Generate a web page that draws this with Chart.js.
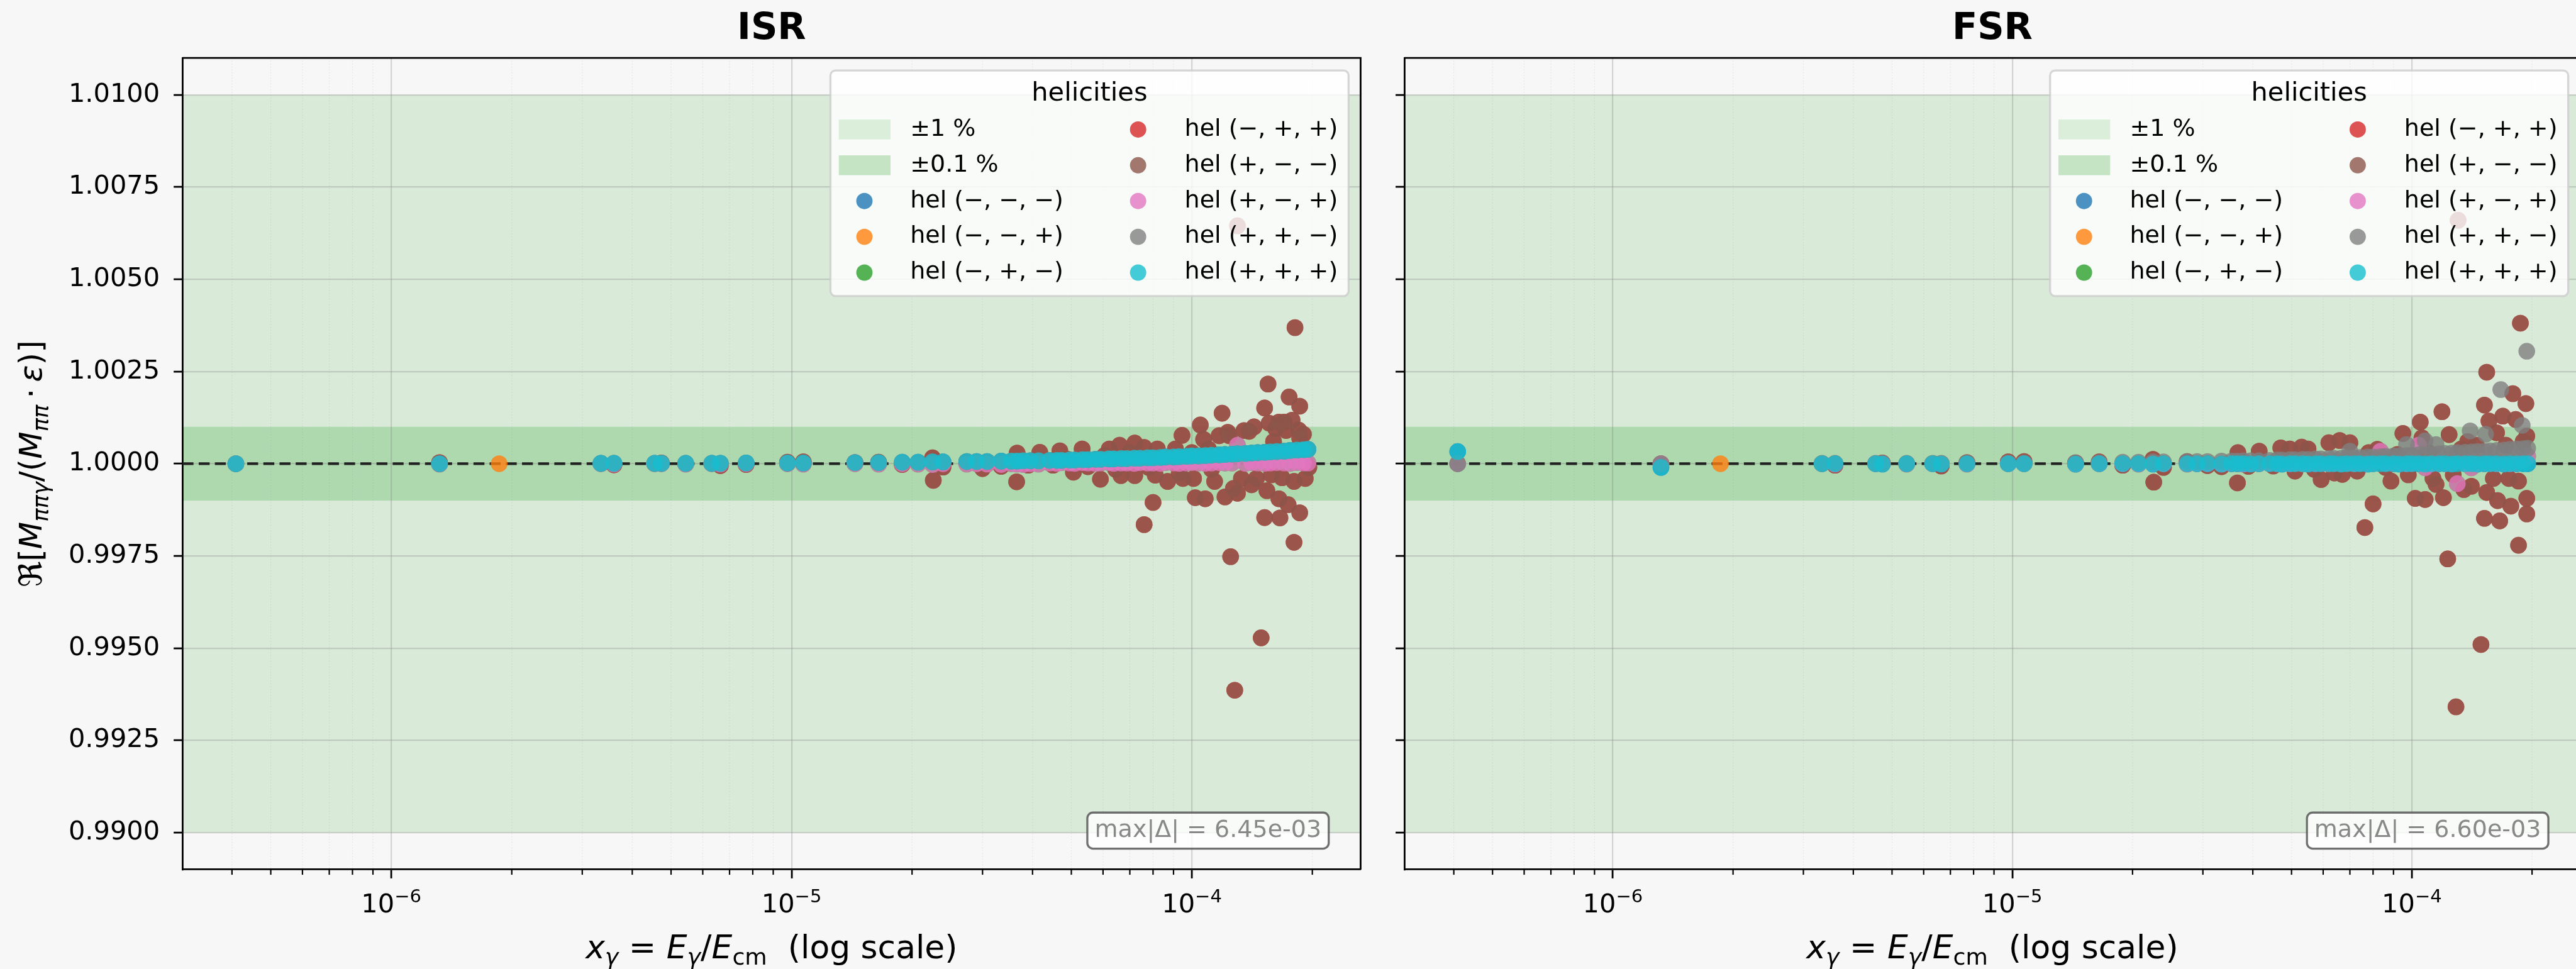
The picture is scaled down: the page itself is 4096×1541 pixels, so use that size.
<!DOCTYPE html>
<html>
<head>
<meta charset="utf-8">
<script src="https://cdn.jsdelivr.net/npm/chart.js@4.4.1/dist/chart.umd.min.js"></script>
<style>
  html, body { margin: 0; padding: 0; background: #f7f7f7; overflow: hidden; }
  body { width: 4096px; height: 1541px; position: relative; }
  canvas { position: absolute; top: 0; }
  #isr { left: 0; }
  #fsr { left: 2216px; }
</style>
</head>
<body>
<canvas id="isr" width="2216" height="1541"></canvas>
<canvas id="fsr" width="1900" height="1541"></canvas>
<script>
const S = 4096 / 4932;
const FONT = '"DejaVu Sans", sans-serif';

const helicityLabels = ['hel (−, −, −)', 'hel (−, −, +)', 'hel (−, +, −)', 'hel (−, +, +)',
                        'hel (+, −, −)', 'hel (+, −, +)', 'hel (+, +, −)', 'hel (+, +, +)'];
const helicityColors = ['31,119,180', '255,127,14', '44,160,44', '214,39,40',
                        '140,86,75', '227,119,194', '127,127,127', '23,190,207'];

// axes
const xRange = [3.01e-7, 2.64e-4];
const yRange = [0.989, 1.011];
const xMajorTicks = [1e-6, 1e-5, 1e-4];
const xMajorExponents = ['−6', '−5', '−4'];
const xMinorTicks = [4e-7, 5e-7, 6e-7, 7e-7, 8e-7, 9e-7,
                     2e-6, 3e-6, 4e-6, 5e-6, 6e-6, 7e-6, 8e-6, 9e-6,
                     2e-5, 3e-5, 4e-5, 5e-5, 6e-5, 7e-5, 8e-5, 9e-5, 2e-4];
const yTicks = [0.99, 0.9925, 0.995, 0.9975, 1.0, 1.0025, 1.005, 1.0075, 1.01];
const bandWide = [0.99, 1.01];
const bandNarrow = [0.999, 1.001];
const bandColors = ['rgba(44,160,44,0.15)', 'rgba(44,160,44,0.25)'];
const bandLabels = ['±1 %', '±0.1 %'];

// photon energy fraction of each event (shared by both panels)
const xEvents = [
  4.09e-7, 1.32e-6, 3.34e-6, 3.60e-6, 4.55e-6, 4.73e-6, 5.44e-6, 6.32e-6, 6.64e-6, 7.70e-6,
  9.77e-6, 1.07e-5, 1.44e-5, 1.65e-5, 1.89e-5, 2.07e-5, 2.25e-5, 2.39e-5, 2.74e-5, 2.90e-5,
  3.08e-5, 3.34e-5, 3.54e-5, 3.66e-5, 3.79e-5, 3.95e-5, 4.14e-5, 4.41e-5, 4.60e-5, 4.73e-5,
  4.95e-5, 5.10e-5, 5.33e-5, 5.50e-5, 5.74e-5, 5.92e-5, 6.20e-5, 6.38e-5, 6.66e-5, 6.88e-5,
  7.18e-5, 7.42e-5, 7.75e-5, 8.00e-5, 8.35e-5, 8.60e-5, 9.00e-5, 9.30e-5, 9.70e-5, 1.00e-4,
  1.04e-4, 1.08e-4, 1.12e-4, 1.17e-4, 1.21e-4, 1.26e-4, 1.30e-4, 1.36e-4, 1.41e-4, 1.46e-4,
  1.52e-4, 1.57e-4, 1.63e-4, 1.70e-4, 1.76e-4, 1.83e-4, 1.90e-4, 1.95e-4
];

// ISR ratios
const isrPlusPlusPlus = [
  1.00000, 1.00000, 1.00001, 1.00001, 1.00001, 1.00001, 1.00001, 1.00001, 1.00001, 1.00002,
  1.00002, 1.00002, 1.00003, 1.00003, 1.00004, 1.00004, 1.00005, 1.00005, 1.00006, 1.00006,
  1.00006, 1.00007, 1.00007, 1.00007, 1.00008, 1.00008, 1.00008, 1.00009, 1.00009, 1.00009,
  1.00010, 1.00010, 1.00011, 1.00011, 1.00012, 1.00012, 1.00013, 1.00013, 1.00014, 1.00014,
  1.00015, 1.00015, 1.00016, 1.00016, 1.00017, 1.00018, 1.00018, 1.00019, 1.00020, 1.00021,
  1.00021, 1.00022, 1.00023, 1.00024, 1.00025, 1.00026, 1.00027, 1.00028, 1.00029, 1.00030,
  1.00031, 1.00032, 1.00033, 1.00034, 1.00036, 1.00037, 1.00038, 1.00039
];
const isrPlusMinusPlus = [
  1.00000, 0.99999, 1.00000, 0.99999, 1.00000, 1.00000, 0.99999, 1.00000, 0.99999, 1.00000,
  1.00000, 0.99999, 1.00000, 0.99999, 1.00000, 0.99999, 0.99998, 1.00000, 0.99999, 1.00000,
  0.99999, 0.99998, 1.00000, 0.99999, 0.99998, 1.00000, 0.99999, 1.00002, 1.00001, 1.00003,
  1.00002, 1.00001, 1.00003, 1.00002, 1.00001, 1.00002, 1.00003, 1.00001, 1.00002, 1.00002,
  1.00001, 1.00003, 1.00002, 1.00002, 1.00001, 1.00003, 1.00002, 1.00001, 1.00002, 1.00003,
  1.00002, 1.00001, 1.00002, 1.00003, 1.00002, 1.00002, 1.00050, 1.00001, 1.00003, 1.00002,
  1.00001, 1.00002, 1.00003, 1.00002, 1.00001, 1.00003, 1.00002, 1.00002
];
const isrPlusMinusMinusX = [
  1.32e-6, 3.60e-6, 4.73e-6, 6.64e-6, 7.70e-6, 9.77e-6, 1.07e-5, 1.44e-5, 1.65e-5, 1.89e-5,
  2.25e-5, 2.26e-5, 2.39e-5, 2.74e-5, 3.00e-5, 3.08e-5, 3.34e-5, 3.66e-5, 3.65e-5, 3.90e-5,
  4.17e-5, 4.50e-5, 4.68e-5, 4.90e-5, 5.06e-5, 5.32e-5, 5.50e-5, 5.91e-5, 6.05e-5, 6.22e-5,
  6.45e-5, 6.60e-5, 6.65e-5, 7.00e-5, 7.20e-5, 7.20e-5, 7.60e-5, 7.60e-5, 7.80e-5, 8.00e-5,
  8.20e-5, 8.10e-5, 8.50e-5, 8.70e-5, 9.10e-5, 9.30e-5, 9.45e-5, 9.50e-5, 1.00e-4, 1.01e-4,
  1.02e-4, 1.05e-4, 1.07e-4, 1.08e-4, 1.10e-4, 1.12e-4, 1.14e-4, 1.17e-4, 1.19e-4, 1.21e-4,
  1.23e-4, 1.24e-4, 1.25e-4, 1.27e-4, 1.28e-4, 1.30e-4, 1.30e-4, 1.33e-4, 1.35e-4, 1.39e-4,
  1.41e-4, 1.43e-4, 1.45e-4, 1.47e-4, 1.49e-4, 1.52e-4, 1.52e-4, 1.54e-4, 1.55e-4, 1.56e-4,
  1.58e-4, 1.60e-4, 1.62e-4, 1.65e-4, 1.65e-4, 1.66e-4, 1.68e-4, 1.70e-4, 1.72e-4, 1.74e-4,
  1.75e-4, 1.78e-4, 1.80e-4, 1.80e-4, 1.81e-4, 1.85e-4, 1.86e-4, 1.86e-4, 1.86e-4, 1.90e-4,
  1.92e-4, 1.96e-4
];
const isrPlusMinusMinusY = [
  1.00003, 0.99997, 1.00002, 0.99995, 0.99998, 1.00004, 1.00005, 1.00003, 1.00004, 0.99998,
  1.00016, 0.99955, 0.99991, 1.00005, 0.99987, 1.00004, 0.99993, 1.00029, 0.99951, 0.99996,
  1.00031, 0.99996, 1.00035, 1.00012, 0.99977, 1.00040, 0.99992, 0.99958, 1.00022, 1.00040,
  0.99985, 1.00050, 0.99968, 1.00030, 1.00056, 0.99968, 1.00044, 0.99835, 0.99990, 0.99895,
  1.00040, 0.99969, 1.00010, 0.99952, 1.00040, 0.99975, 1.00077, 0.99960, 1.00030, 0.99960,
  0.99908, 1.00105, 1.00066, 0.99905, 1.00040, 0.99985, 0.99952, 1.00076, 1.00137, 0.99910,
  1.00085, 1.00076, 0.99748, 0.99933, 0.99386, 1.00645, 0.99920, 0.99960, 1.00090, 1.00088,
  0.99943, 1.00100, 0.99960, 1.00020, 0.99528, 1.00151, 0.99854, 0.99927, 1.00216, 1.00110,
  0.99970, 1.00060, 1.00095, 1.00113, 0.99905, 0.99853, 0.99962, 1.00113, 1.00090, 0.99889,
  1.00181, 1.00118, 0.99787, 0.99952, 1.00369, 1.00091, 1.00156, 1.00069, 0.99867, 1.00080,
  0.99960, 0.99990
];

// FSR ratios
const fsrPlusPlusPlus = [
  1.00033, 0.99990, 1.00000, 1.00000, 1.00000, 0.99999, 1.00000, 1.00000, 0.99999, 1.00000,
  1.00000, 1.00000, 0.99999, 1.00000, 1.00000, 1.00000, 0.99999, 1.00000, 1.00000, 1.00000,
  1.00000, 0.99999, 1.00000, 1.00000, 1.00000, 0.99999, 1.00000, 1.00000, 1.00000, 0.99999,
  1.00000, 1.00000, 1.00000, 0.99999, 1.00000, 1.00000, 1.00000, 1.00000, 0.99999, 1.00000,
  1.00000, 1.00000, 0.99999, 1.00000, 1.00000, 1.00000, 1.00000, 0.99999, 1.00000, 1.00000,
  1.00000, 0.99999, 1.00000, 1.00000, 1.00000, 0.99999, 1.00000, 1.00000, 1.00000, 0.99999,
  1.00000, 1.00000, 1.00000, 0.99999, 1.00000, 1.00000, 1.00000, 1.00000
];
const fsrPlusPlusMinus = [
  1.00000, 1.00000, 1.00001, 1.00001, 1.00001, 1.00001, 1.00001, 1.00001, 1.00001, 1.00002,
  1.00002, 1.00002, 1.00003, 1.00003, 1.00004, 1.00004, 1.00005, 1.00005, 1.00006, 1.00006,
  1.00006, 1.00007, 1.00007, 1.00007, 1.00008, 1.00008, 1.00008, 1.00009, 1.00010, 1.00010,
  1.00011, 1.00011, 1.00012, 1.00012, 1.00013, 1.00013, 1.00014, 1.00015, 1.00015, 1.00016,
  1.00016, 1.00017, 1.00018, 1.00018, 1.00019, 1.00020, 1.00021, 1.00021, 1.00022, 1.00023,
  1.00024, 1.00025, 1.00026, 1.00027, 1.00028, 1.00029, 1.00030, 1.00031, 1.00032, 1.00033,
  1.00034, 1.00035, 1.00036, 1.00037, 1.00039, 1.00040, 1.00041, 1.00042
];
const fsrPlusPlusMinusOutX = [7.0e-5, 9.7e-5, 1.08e-4, 1.15e-4, 1.40e-4, 1.53e-4, 1.67e-4, 1.89e-4, 1.94e-4];
const fsrPlusPlusMinusOutY = [1.00034, 1.00052, 1.00062, 1.00052, 1.00089, 1.00080, 1.00201, 1.00104, 1.00305];
const fsrPlusMinusPlus = [
  1.00000, 1.00000, 1.00000, 0.99999, 1.00000, 1.00000, 0.99999, 1.00000, 1.00000, 0.99999,
  1.00000, 1.00000, 0.99999, 1.00000, 1.00000, 0.99999, 1.00000, 1.00000, 0.99999, 1.00000,
  1.00000, 0.99999, 1.00000, 1.00000, 0.99999, 1.00000, 1.00000, 1.00001, 1.00000, 1.00001,
  1.00000, 1.00001, 1.00000, 1.00001, 1.00000, 1.00001, 1.00000, 1.00001, 1.00000, 1.00001,
  1.00000, 1.00001, 1.00000, 1.00001, 1.00034, 1.00001, 1.00000, 1.00001, 1.00000, 1.00001,
  1.00050, 0.99989, 1.00000, 1.00001, 1.00000, 1.00001, 0.99946, 1.00001, 0.99989, 1.00001,
  1.00000, 1.00001, 1.00000, 1.00001, 1.00000, 1.00002, 1.00010, 1.00020
];
const fsrPlusMinusMinusX = [
  1.32e-6, 3.60e-6, 4.73e-6, 6.64e-6, 7.70e-6, 9.77e-6, 1.07e-5, 1.44e-5, 1.65e-5, 1.89e-5,
  2.25e-5, 2.26e-5, 2.39e-5, 2.74e-5, 3.08e-5, 3.34e-5, 3.67e-5, 3.66e-5, 3.90e-5, 4.15e-5,
  4.50e-5, 4.70e-5, 4.95e-5, 5.10e-5, 5.30e-5, 5.50e-5, 5.70e-5, 5.93e-5, 6.20e-5, 6.40e-5,
  6.60e-5, 6.70e-5, 7.00e-5, 7.30e-5, 7.63e-5, 7.80e-5, 8.00e-5, 8.20e-5, 8.60e-5, 8.87e-5,
  9.20e-5, 9.50e-5, 9.80e-5, 1.02e-4, 1.05e-4, 1.06e-4, 1.08e-4, 1.10e-4, 1.13e-4, 1.15e-4,
  1.19e-4, 1.20e-4, 1.23e-4, 1.24e-4, 1.27e-4, 1.29e-4, 1.306e-4, 1.33e-4, 1.35e-4, 1.38e-4,
  1.41e-4, 1.45e-4, 1.49e-4, 1.52e-4, 1.52e-4, 1.54e-4, 1.54e-4, 1.56e-4, 1.60e-4, 1.63e-4,
  1.64e-4, 1.66e-4, 1.69e-4, 1.72e-4, 1.75e-4, 1.77e-4, 1.79e-4, 1.82e-4, 1.85e-4, 1.85e-4,
  1.87e-4, 1.90e-4, 1.93e-4, 1.94e-4, 1.94e-4, 1.94e-4
];
const fsrPlusMinusMinusY = [
  1.00000, 0.99996, 1.00002, 0.99994, 1.00003, 1.00005, 1.00006, 1.00002, 1.00005, 0.99996,
  1.00012, 0.99950, 0.99990, 1.00006, 0.99995, 0.99992, 1.00030, 0.99948, 0.99993, 1.00034,
  0.99994, 1.00043, 1.00040, 0.99980, 1.00045, 1.00040, 0.99985, 0.99957, 1.00057, 0.99975,
  1.00063, 0.99971, 1.00057, 0.99980, 0.99827, 1.00030, 0.99891, 1.00039, 0.99990, 0.99953,
  1.00025, 1.00082, 0.99970, 0.99906, 1.00113, 1.00070, 0.99903, 1.00030, 0.99960, 0.99944,
  1.00141, 0.99908, 0.99742, 1.00079, 0.99970, 0.99341, 1.00660, 1.00040, 0.99930, 1.00060,
  0.99939, 1.00050, 0.99510, 1.00159, 0.99852, 1.00248, 0.99922, 1.00116, 0.99960, 1.00084,
  0.99900, 0.99845, 1.00129, 1.00050, 0.99960, 0.99885, 1.00190, 1.00120, 0.99953, 0.99779,
  1.00381, 1.00060, 1.00163, 1.00075, 0.99864, 0.99906
];

// the single soft event seen in the (−, −, +) channel
const softX = [1.86e-6];
const softY = [1.00000];

function points(xs, ys) {
  return xs.map((x, i) => ({ x: x, y: ys[i] }));
}

const isrSeries = [
  points(xEvents, isrPlusPlusPlus),
  points(softX, softY),
  points(xEvents, isrPlusMinusPlus),
  points(isrPlusMinusMinusX, isrPlusMinusMinusY),
  points(isrPlusMinusMinusX, isrPlusMinusMinusY),
  points(xEvents, isrPlusMinusPlus),
  points(xEvents, isrPlusPlusPlus),
  points(xEvents, isrPlusPlusPlus)
];
const fsrSeries = [
  points(xEvents, fsrPlusPlusPlus),
  points(softX, softY),
  points(xEvents, fsrPlusMinusPlus),
  points(fsrPlusMinusMinusX, fsrPlusMinusMinusY),
  points(fsrPlusMinusMinusX, fsrPlusMinusMinusY),
  points(xEvents, fsrPlusMinusPlus),
  points(xEvents, fsrPlusPlusMinus).concat(points(fsrPlusPlusMinusOutX, fsrPlusPlusMinusOutY)),
  points(xEvents, fsrPlusPlusPlus)
];

function maxDeviation(series) {
  let m = 0;
  series.forEach(pts => pts.forEach(p => { m = Math.max(m, Math.abs(p.y - 1)); }));
  return m;
}

function sciLabel(v) {
  const parts = v.toExponential(2).split('e');
  const e = parseInt(parts[1], 10);
  return parts[0] + 'e' + (e < 0 ? '-' : '+') + String(Math.abs(e)).padStart(2, '0');
}

function roundedRect(ctx, x, y, w, h, r) {
  ctx.beginPath();
  ctx.moveTo(x + r, y);
  ctx.lineTo(x + w - r, y);
  ctx.arcTo(x + w, y, x + w, y + r, r);
  ctx.lineTo(x + w, y + h - r);
  ctx.arcTo(x + w, y + h, x + w - r, y + h, r);
  ctx.lineTo(x + r, y + h);
  ctx.arcTo(x, y + h, x, y + h - r, r);
  ctx.lineTo(x, y + r);
  ctx.arcTo(x, y, x + r, y, r);
  ctx.closePath();
}

// text runs with italic / sub / superscript pieces; returns the width
function drawRuns(ctx, runs, size, x0, y0, draw) {
  let x = x0;
  runs.forEach(r => {
    const s = (r.sub || r.sup) ? size * 0.7 : size;
    ctx.font = (r.it ? 'italic ' : '') + s + 'px ' + FONT;
    const dy = r.sub ? size * 0.2 : (r.sup ? -size * 0.38 : 0);
    if (draw) ctx.fillText(r.t, x, y0 + dy);
    x += ctx.measureText(r.t).width;
  });
  return x - x0;
}

function drawCentered(ctx, runs, size, cx, y) {
  ctx.textAlign = 'left';
  ctx.textBaseline = 'alphabetic';
  const w = drawRuns(ctx, runs, size, 0, 0, false);
  drawRuns(ctx, runs, size, cx - w / 2, y, true);
}

const xTitleRuns = [
  { t: 'x', it: true }, { t: 'γ', it: true, sub: true }, { t: ' = ' },
  { t: 'E', it: true }, { t: 'γ', it: true, sub: true }, { t: '/' },
  { t: 'E', it: true }, { t: 'cm', sub: true }, { t: '  (log scale)' }
];
const yTitleRuns = [
  { t: 'ℜ' }, { t: '[' }, { t: 'M', it: true }, { t: 'ππγ', it: true, sub: true }, { t: '/(' },
  { t: 'M', it: true }, { t: 'ππ', it: true, sub: true }, { t: '\u2009·\u2009' }, { t: 'ε', it: true }, { t: ')]' }
];

function drawLegend(chart) {
  const { ctx, chartArea: a } = chart;
  const w = 992 * S, h = 432 * S;
  const left = a.right - 23 * S - w, top = a.top + 24 * S;
  ctx.save();
  roundedRect(ctx, left, top, w, h, 8);
  ctx.fillStyle = 'rgba(255,255,255,0.8)';
  ctx.fill();
  ctx.lineWidth = 3.3;
  ctx.strokeStyle = 'rgba(204,204,204,0.8)';
  ctx.stroke();

  ctx.fillStyle = '#000';
  ctx.textAlign = 'center';
  ctx.textBaseline = 'alphabetic';
  ctx.font = (50 * S) + 'px ' + FONT;
  ctx.fillText('helicities', left + w / 2, top + 58 * S);

  const entries = bandLabels.map((t, i) => ({ label: t, patch: bandColors[i] }))
    .concat(chart.data.datasets.map(d => ({ label: d.label, dot: d.backgroundColor })));
  ctx.font = (45.8 * S) + 'px ' + FONT;
  ctx.textAlign = 'left';
  ctx.textBaseline = 'middle';
  entries.forEach((e, i) => {
    const col = Math.floor(i / 5), row = i % 5;
    const cy = top + (113 + 68.5 * row) * S;
    const mx = left + (col ? 589 : 65) * S;
    const tx = left + (col ? 678 : 152.6) * S;
    if (e.patch) {
      ctx.fillStyle = e.patch;
      ctx.fillRect(left + 16 * S, cy - 19 * S, 99 * S, 38 * S);
    } else {
      ctx.fillStyle = e.dot;
      ctx.beginPath();
      ctx.arc(mx, cy, 15.6 * S, 0, Math.PI * 2);
      ctx.fill();
    }
    ctx.fillStyle = '#000';
    ctx.fillText(e.label, tx, cy);
  });
  ctx.restore();
}

const panelDecor = {
  id: 'panelDecor',
  beforeDraw(chart) {
    const { ctx, chartArea: a, scales: { y } } = chart;
    ctx.save();
    [bandWide, bandNarrow].forEach((b, i) => {
      const top = y.getPixelForValue(b[1]);
      const bottom = y.getPixelForValue(b[0]);
      ctx.fillStyle = bandColors[i];
      ctx.fillRect(a.left, top, a.right - a.left, bottom - top);
    });
    ctx.restore();
  },
  beforeDatasetsDraw(chart) {
    const { ctx, chartArea: a, scales: { x, y } } = chart;
    ctx.save();
    ctx.strokeStyle = 'rgba(128,128,128,0.18)';
    ctx.lineWidth = 1.2;
    ctx.setLineDash([1.5, 3]);
    xMinorTicks.forEach(v => {
      const px = x.getPixelForValue(v);
      ctx.beginPath();
      ctx.moveTo(px, a.top);
      ctx.lineTo(px, a.bottom);
      ctx.stroke();
    });
    // unity reference
    const py = y.getPixelForValue(1);
    ctx.strokeStyle = '#222';
    ctx.lineWidth = 4.2;
    ctx.setLineDash([17.4, 8.3]);
    ctx.beginPath();
    ctx.moveTo(a.left, py);
    ctx.lineTo(a.right, py);
    ctx.stroke();
    ctx.restore();
  },
  afterDatasetsDraw(chart, args, opts) {
    const { ctx, chartArea: a, scales: { x } } = chart;
    ctx.save();
    // top and right spines
    ctx.strokeStyle = '#000';
    ctx.lineWidth = 2.8;
    ctx.beginPath();
    ctx.moveTo(a.left, a.top);
    ctx.lineTo(a.right, a.top);
    ctx.lineTo(a.right, a.bottom);
    ctx.stroke();

    // minor tick marks
    ctx.lineWidth = 2.2;
    xMinorTicks.forEach(v => {
      const px = x.getPixelForValue(v);
      ctx.beginPath();
      ctx.moveTo(px, a.bottom);
      ctx.lineTo(px, a.bottom + 10 * S);
      ctx.stroke();
    });

    // decade labels
    ctx.fillStyle = '#000';
    xMajorTicks.forEach((v, i) => {
      drawCentered(ctx, [{ t: '10' }, { t: xMajorExponents[i], sup: true }], 50 * S,
                   x.getPixelForValue(v), 1747 * S);
    });

    // axis titles
    drawCentered(ctx, xTitleRuns, 62.5 * S, (a.left + a.right) / 2, 1835 * S);
    if (opts.yTitle) {
      const base = 62.5 * S;
      const natural = drawRuns(ctx, yTitleRuns, base, 0, 0, false);
      const size = base * Math.min(1, 473 * S / natural);
      ctx.save();
      ctx.translate(80 * S, (a.top + a.bottom) / 2);
      ctx.rotate(-Math.PI / 2);
      drawCentered(ctx, yTitleRuns, size, 0, 0);
      ctx.restore();
    }

    // largest deviation note
    const note = 'max|Δ| = ' + sciLabel(opts.maxDelta);
    ctx.font = (45.8 * S) + 'px ' + FONT;
    const tw = ctx.measureText(note).width;
    const pad = 14 * S, bh = 69 * S;
    const bx = a.right - 75 * S - tw - pad, by = a.bottom - 40 * S - bh;
    roundedRect(ctx, bx, by, tw + 2 * pad, bh, 9);
    ctx.fillStyle = 'rgba(255,255,255,0.8)';
    ctx.fill();
    ctx.lineWidth = 3.3;
    ctx.strokeStyle = 'rgba(77,77,77,0.8)';
    ctx.stroke();
    ctx.fillStyle = '#888';
    ctx.textAlign = 'left';
    ctx.textBaseline = 'middle';
    ctx.fillText(note, bx + pad, by + bh / 2);
    ctx.restore();
  },
  afterDraw(chart) {
    drawLegend(chart);
  }
};

Chart.defaults.font.family = FONT;

function buildPanel(canvasId, title, series, frame) {
  const gridStyle = {
    color: 'rgba(128,128,128,0.3)',
    lineWidth: 2.2,
    tickColor: '#000',
    tickWidth: 2.8,
    tickLength: 17 * S
  };
  return new Chart(document.getElementById(canvasId), {
    type: 'scatter',
    data: {
      datasets: series.map((data, i) => ({
        label: helicityLabels[i],
        data: data,
        backgroundColor: 'rgba(' + helicityColors[i] + ',0.8)',
        order: series.length - 1 - i
      }))
    },
    options: {
      responsive: false,
      animation: false,
      events: [],
      layout: { padding: { left: 0, right: frame.padRight, top: 0, bottom: 0 } },
      elements: { point: { radius: 16 * S, hoverRadius: 16 * S, borderWidth: 0 } },
      plugins: {
        legend: { display: false },
        tooltip: { enabled: false },
        title: {
          display: true,
          text: title,
          fullSize: false,
          color: '#000',
          font: { size: 71 * S, weight: 'bold', family: FONT },
          padding: { top: 11, bottom: 10.4 }
        },
        panelDecor: { maxDelta: maxDeviation(series), yTitle: frame.yTitle }
      },
      scales: {
        x: {
          type: 'logarithmic',
          min: xRange[0],
          max: xRange[1],
          afterBuildTicks: s => { s.ticks = xMajorTicks.map(v => ({ value: v })); },
          afterFit: s => { s.height = 1541 - 1665 * S; },
          ticks: { display: false },
          grid: gridStyle,
          border: { color: '#000', width: 2.8 }
        },
        y: {
          min: yRange[0],
          max: yRange[1],
          afterBuildTicks: s => { s.ticks = yTicks.map(v => ({ value: v })); },
          afterFit: s => { s.width = frame.yWidth; },
          ticks: {
            color: frame.yTitle ? '#000' : 'rgba(0,0,0,0)',
            font: { size: 50 * S, family: FONT },
            padding: 22,
            callback: v => v.toFixed(4)
          },
          grid: gridStyle,
          border: { color: '#000', width: 2.8 }
        }
      }
    },
    plugins: [panelDecor]
  });
}

buildPanel('isr', 'ISR', isrSeries, { yWidth: 349.5 * S, padRight: 2216 - 2605 * S, yTitle: true });
buildPanel('fsr', 'FSR', fsrSeries, { yWidth: 2689 * S - 2216, padRight: 1900 - (4944.5 * S - 2216), yTitle: false });
</script>
</body>
</html>
